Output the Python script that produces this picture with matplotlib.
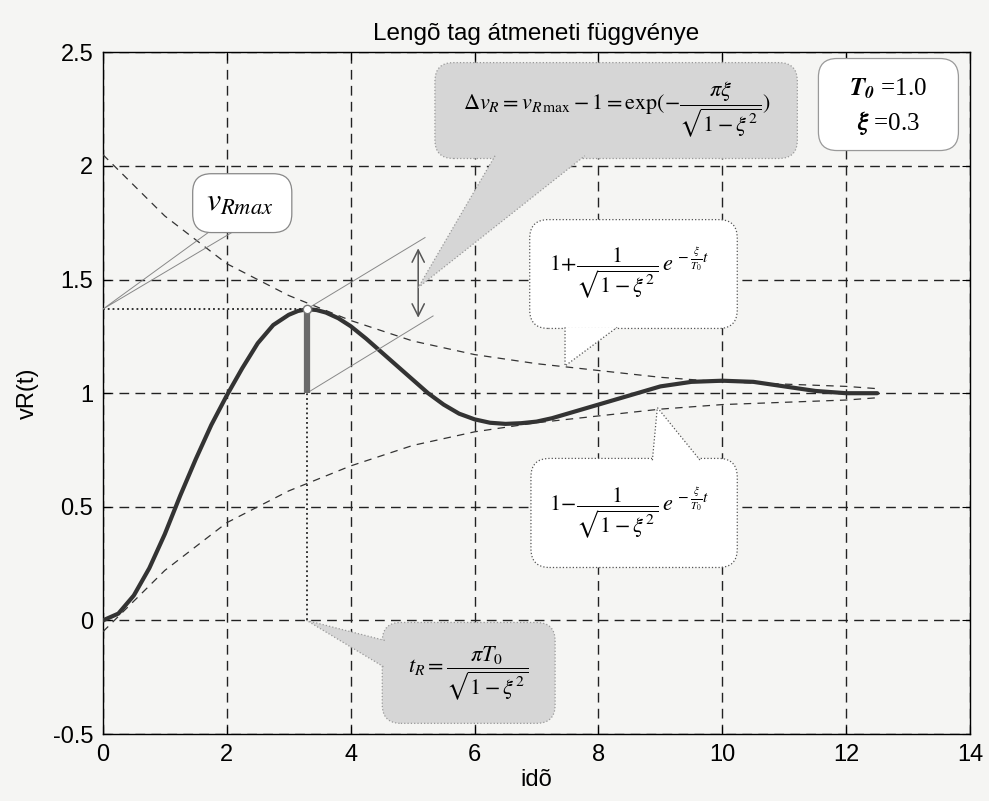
import numpy as np
import matplotlib
matplotlib.use('Agg')
import matplotlib.pyplot as plt
from matplotlib.patches import FancyBboxPatch, Polygon

plt.rcParams['font.family'] = ['Liberation Sans', 'DejaVu Sans']
plt.rcParams['mathtext.fontset'] = 'stix'

# step response
t = [0, 0.25, 0.5, 0.75, 1, 1.25, 1.5, 1.75, 2, 2.25, 2.5, 2.75, 3, 3.15, 3.3, 3.45, 3.6,
     3.8, 4, 4.25, 4.5, 4.75, 5, 5.25, 5.5, 5.75, 6, 6.25, 6.5, 6.75, 7, 7.25, 7.5, 7.75,
     8, 8.5, 9, 9.5, 10, 10.5, 11, 11.5, 12, 12.5]
vR = [0, 0.03, 0.11, 0.23, 0.38, 0.55, 0.71, 0.86, 0.99, 1.11, 1.22, 1.30, 1.345, 1.362,
      1.37, 1.366, 1.355, 1.33, 1.295, 1.24, 1.18, 1.12, 1.06, 1.00, 0.95, 0.91, 0.885,
      0.87, 0.865, 0.868, 0.875, 0.89, 0.91, 0.93, 0.95, 0.99, 1.03, 1.05, 1.055,
      1.05, 1.03, 1.01, 1.0, 1.0]

# envelopes
t_env = [0, 1, 2, 3, 4, 5, 6, 7, 8, 9, 10, 11, 12, 12.5]
env_upper = [2.05, 1.78, 1.57, 1.43, 1.32, 1.23, 1.17, 1.13, 1.10, 1.07, 1.05, 1.04, 1.03, 1.02]
env_lower = [-0.05, 0.22, 0.43, 0.57, 0.68, 0.77, 0.83, 0.87, 0.90, 0.93, 0.95, 0.96, 0.97, 0.98]

t_peak = 3.29
v_peak = 1.37
v_final = 1.0

xticks = [0, 2, 4, 6, 8, 10, 12, 14]
yticks = [-0.5, 0, 0.5, 1, 1.5, 2, 2.5]

bg = '#f5f5f3'
fig = plt.figure(figsize=(9.89, 8.01), dpi=100, facecolor=bg)
ax = fig.add_axes([0.104, 0.0836, 0.877, 0.851])
ax.set_facecolor(bg)

ax.set_xlim(0, 14)
ax.set_ylim(-0.5, 2.5)
ax.set_xticks(xticks)
ax.set_yticks(yticks)
ax.set_yticklabels(['-0.5', '0', '0.5', '1', '1.5', '2', '2.5'])
ax.tick_params(direction='in', top=True, right=True, length=6, labelsize=17, pad=7)
ax.grid(True, color='#222222', linestyle=(0, (7, 4.5)), linewidth=1.0)
ax.set_axisbelow(True)
for s in ax.spines.values():
    s.set_linewidth(1.0)

ax.set_title('Lengõ tag átmeneti függvénye', fontsize=17.5, pad=9)
ax.set_xlabel('idõ', fontsize=17, labelpad=2)
ax.set_ylabel('vR(t)', fontsize=17, labelpad=10)

# envelopes and response
ax.plot(t_env, env_upper, color='#333333', lw=0.9, ls=(0, (6, 5)), zorder=3)
ax.plot(t_env, env_lower, color='#333333', lw=0.9, ls=(0, (6, 5)), zorder=3)
ax.plot(t, vR, color='#333333', lw=3.0, zorder=4, solid_capstyle='round',
        solid_joinstyle='round')

# overshoot marks
ax.plot([0, t_peak], [v_peak, v_peak], color='#222222', lw=1.3, ls=':', zorder=4)
ax.plot([t_peak, t_peak], [0, v_final], color='#222222', lw=1.3, ls=':', zorder=4)
ax.plot([t_peak, t_peak], [v_final, v_peak], color='#6a6a6a', lw=4.5, zorder=5,
        solid_capstyle='butt')
ax.plot([t_peak], [v_peak], 'o', ms=6, mfc='white', mec='#777777', mew=1, zorder=6)

# dimension lines + double arrow
ax.plot([t_peak, 5.2], [v_peak, 1.685], color='#888888', lw=0.7, zorder=4)
ax.plot([t_peak, 5.33], [v_final, 1.34], color='#888888', lw=0.7, zorder=4)
ax.annotate('', xy=(5.09, 1.65), xytext=(5.09, 1.32),
            arrowprops=dict(arrowstyle='<->', color='#555555', lw=1.1,
                            mutation_scale=22), zorder=6)

asp = 61.93 / 227.3


def bubble(x0, y0, x1, y1, tail, fc, ec, ls='-', z=7):
    box = FancyBboxPatch((x0, y0), x1 - x0, y1 - y0,
                         boxstyle='round,pad=0,rounding_size=0.3',
                         mutation_aspect=asp, fc=fc, ec=ec, lw=0.9, ls=ls, zorder=z)
    ax.add_patch(box)
    if tail is not None:
        ax.add_patch(Polygon(tail, closed=True, fc=fc, ec='none', zorder=z + 0.1))
        ax.plot([tail[0][0], tail[1][0], tail[2][0]],
                [tail[0][1], tail[1][1], tail[2][1]],
                color=ec, lw=0.9, ls=ls, zorder=z + 0.2)


gray = '#d6d6d6'
# vRmax bubble (tail as two thin lines)
bubble(1.45, 1.707, 3.05, 1.966, None, 'white', '#888888')
ax.plot([1.70, 0, 2.08], [1.707, v_peak, 1.707], color='#888888', lw=0.7, zorder=7)
ax.text(2.2, 1.836, r'$v_{Rmax}$', fontsize=23, ha='center', va='center', zorder=8)

# delta vR bubble
bubble(5.36, 2.033, 11.21, 2.455,
       [(6.33, 2.045), (5.09, 1.465), (7.78, 2.045)], gray, '#999999', ls=':')
ax.text(8.3, 2.25, r'$\Delta v_R = v_{R\,\max} - 1 = \exp(-\dfrac{\pi\xi}{\sqrt{1-\xi^2}})$',
        fontsize=16, ha='center', va='center', zorder=9)

# T0, xi box
bubble(11.55, 2.068, 13.81, 2.473, None, 'white', '#999999')
ax.text(12.68, 2.34, r'$\mathbfit{T}_{\mathbfit{0}}$ =1.0', fontsize=18, ha='center',
        va='center', zorder=9, family='Liberation Serif')
ax.text(12.68, 2.19, r'$\mathbfit{\xi}$ =0.3', fontsize=18, ha='center', va='center',
        zorder=9, family='Liberation Serif')

# upper envelope bubble
bubble(6.89, 1.285, 10.24, 1.764,
       [(7.46, 1.29), (7.46, 1.12), (8.30, 1.29)], 'white', '#555555', ls=':')
ax.text(8.5, 1.53, r'$1\!+\!\dfrac{1}{\sqrt{1-\xi^2}}\,e^{\,-\frac{\xi}{T_0}t}$',
        fontsize=16, ha='center', va='center', zorder=9)

# lower envelope bubble
bubble(6.91, 0.233, 10.24, 0.713,
       [(8.87, 0.705), (8.95, 0.937), (9.64, 0.705)], 'white', '#555555', ls=':')
ax.text(8.5, 0.47, r'$1\!-\!\dfrac{1}{\sqrt{1-\xi^2}}\,e^{\,-\frac{\xi}{T_0}t}$',
        fontsize=16, ha='center', va='center', zorder=9)

# tR bubble
bubble(4.51, -0.453, 7.30, -0.009,
       [(4.55, -0.088), (t_peak, 0.0), (4.55, -0.207)], gray, '#999999', ls=':')
ax.text(5.9, -0.23, r'$t_R = \dfrac{\pi T_0}{\sqrt{1-\xi^2}}$',
        fontsize=16, ha='center', va='center', zorder=9)

fig.savefig('out.png', dpi=100, facecolor=bg)
